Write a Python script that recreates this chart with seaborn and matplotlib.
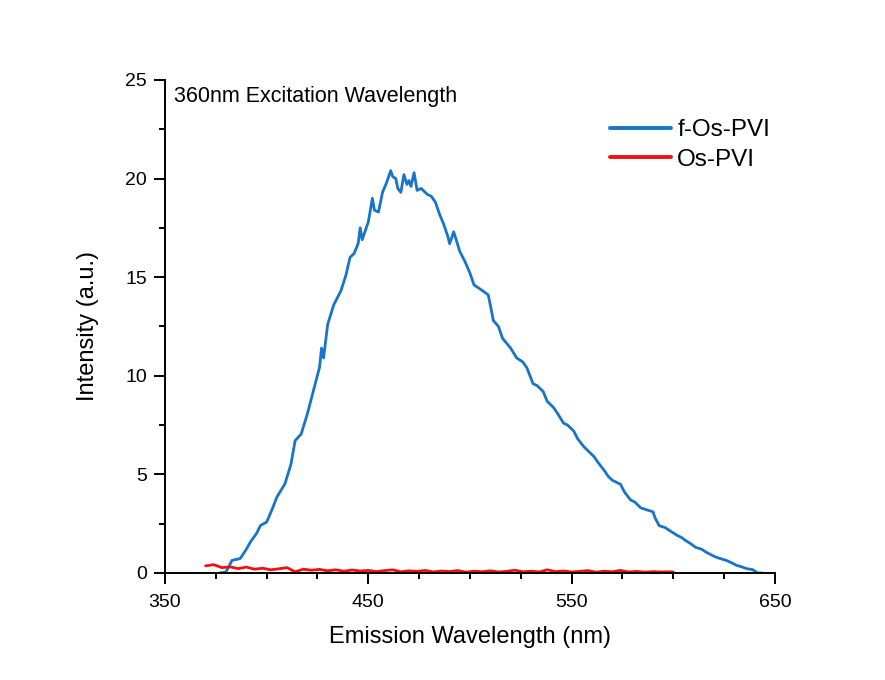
import pandas as pd
import numpy as np
import matplotlib
matplotlib.use("Agg")
import matplotlib.pyplot as plt
import seaborn as sns
from matplotlib.ticker import MultipleLocator

# f-Os-PVI emission
wl_f = [377, 380, 383, 387, 390, 392, 395, 397, 400, 403, 405, 409, 412, 414, 417,
        420, 423, 426, 427, 428, 430, 433, 436.5, 439, 441, 443, 445, 446, 447, 450,
        452, 453, 455, 457, 459, 461, 462, 463.5, 464.5, 466, 467.5, 469, 470, 471,
        472.5, 474, 476, 479, 481, 483, 485, 487, 489, 490, 492, 495, 497.5, 500, 502,
        505, 509, 511.5, 514, 516, 520, 523, 526, 528, 531, 533, 536, 538, 541, 543,
        546, 548, 551, 553, 556, 558, 561, 563, 566, 568, 570, 574, 576, 579, 581,
        584, 587, 590, 591, 593, 596, 598, 602, 604, 606, 609, 611, 614, 616, 619,
        621, 624, 626, 629, 631, 634, 636, 639, 641.5, 644]
int_f = [0.0, 0.05, 0.64, 0.73, 1.2, 1.57, 2.0, 2.41, 2.58, 3.3, 3.84, 4.52, 5.53, 6.71, 7.05,
         8.06, 9.24, 10.42, 11.4, 10.9, 12.6, 13.6, 14.3, 15.1, 16.0, 16.2, 16.7, 17.5, 16.9, 17.8,
         19.0, 18.4, 18.3, 19.3, 19.8, 20.4, 20.1, 20.0, 19.5, 19.3, 20.2, 19.7, 19.9, 19.6,
         20.3, 19.4, 19.5, 19.2, 19.1, 18.8, 18.2, 17.7, 17.1, 16.7, 17.3, 16.3, 15.8, 15.2, 14.6,
         14.4, 14.1, 12.8, 12.5, 11.9, 11.4, 10.9, 10.7, 10.4, 9.6, 9.5, 9.2, 8.7, 8.4, 8.1,
         7.6, 7.5, 7.2, 6.8, 6.4, 6.2, 5.9, 5.6, 5.2, 4.9, 4.7, 4.5, 4.1, 3.7, 3.6,
         3.3, 3.2, 3.1, 2.8, 2.4, 2.3, 2.16, 1.9, 1.8, 1.65, 1.45, 1.3, 1.2, 1.06, 0.9,
         0.8, 0.7, 0.64, 0.5, 0.39, 0.3, 0.22, 0.17, 0.0, 0.0]

# Os-PVI emission
wl_os = [370, 374, 378, 382, 386, 390, 394, 398, 402, 406, 410, 414, 418, 422, 426,
         430, 434, 438, 442, 446, 450, 454, 458, 462, 466, 470, 474, 478, 482, 486,
         490, 494, 498, 502, 506, 510, 514, 518, 522, 526, 530, 534, 538, 542, 546,
         550, 554, 558, 562, 566, 570, 574, 578, 582, 586, 590, 594, 598, 600]
int_os = [0.36, 0.42, 0.27, 0.31, 0.22, 0.30, 0.19, 0.24, 0.16, 0.21, 0.27, 0.06, 0.19, 0.14, 0.18,
          0.11, 0.16, 0.09, 0.15, 0.10, 0.13, 0.07, 0.12, 0.16, 0.06, 0.11, 0.08, 0.13, 0.05, 0.10,
          0.07, 0.12, 0.04, 0.09, 0.06, 0.11, 0.05, 0.08, 0.14, 0.06, 0.09, 0.05, 0.16, 0.07, 0.10,
          0.05, 0.08, 0.12, 0.04, 0.09, 0.06, 0.13, 0.05, 0.08, 0.04, 0.07, 0.05, 0.06, 0.05]

x_ticks = [350, 450, 550, 650]

df_f = pd.DataFrame({"wl": wl_f, "I": int_f})
df_os = pd.DataFrame({"wl": wl_os, "I": int_os})

sns.set_style("ticks")
plt.rcParams["font.family"] = ["Liberation Sans", "DejaVu Sans"]
plt.rcParams["text.color"] = "black"
plt.rcParams["axes.labelcolor"] = "black"

fig = plt.figure(figsize=(8.85, 6.8), dpi=100)
ax = fig.add_axes([0.1864, 0.1574, 0.6893, 0.725])

sns.lineplot(data=df_f, x="wl", y="I", color="#1874C9", lw=2.0, label="f-Os-PVI", ax=ax)
sns.lineplot(data=df_os, x="wl", y="I", color="#F01010", lw=2.0, label="Os-PVI", ax=ax)

ax.set_xlim(350, 650)
ax.set_ylim(0, 25)
ax.set_xticks(x_ticks)
ax.xaxis.set_minor_locator(MultipleLocator(25))
ax.yaxis.set_major_locator(MultipleLocator(5))
ax.yaxis.set_minor_locator(MultipleLocator(2.5))
ax.tick_params(which="major", direction="out", length=8, width=1.4, labelsize=14,
               colors="black", pad=5)
ax.tick_params(axis="x", which="major", pad=7)
ax.tick_params(which="minor", direction="out", length=4.5, width=1.4, colors="black")
for s in ["left", "bottom"]:
    ax.spines[s].set_linewidth(1.4)
    ax.spines[s].set_color("black")
sns.despine(ax=ax)

ax.set_xlabel("Emission Wavelength (nm)", fontsize=17, labelpad=11)
ax.set_ylabel("Intensity (a.u.)", fontsize=17, labelpad=19)
ax.text(0.015, 0.988, "360nm Excitation Wavelength", transform=ax.transAxes,
        fontsize=15.5, va="top", ha="left")

leg = ax.legend(loc="upper right", bbox_to_anchor=(1.02, 0.955), frameon=False, fontsize=17.5,
                handlelength=2.5, handletextpad=0.25, labelspacing=0.32, borderaxespad=0.3)
for h in leg.get_lines():
    h.set_linewidth(2.8)

fig.savefig("out.png", dpi=100, facecolor="white")
